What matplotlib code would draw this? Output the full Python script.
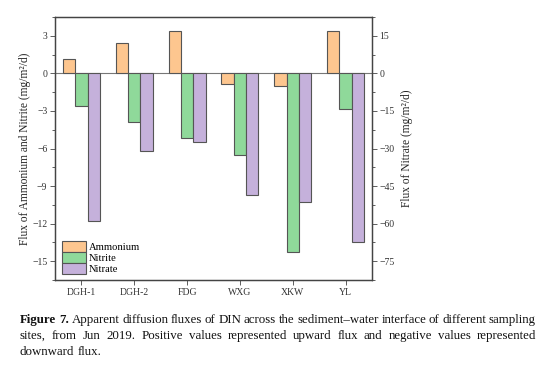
import numpy as np
import matplotlib.pyplot as plt
from matplotlib.ticker import MultipleLocator

plt.rcParams['font.family'] = ['Liberation Serif', 'DejaVu Serif']

# Datos
sites = ['DGH-1', 'DGH-2', 'FDG', 'WXG', 'XKW', 'YL']
ammonium = [1.15, 2.42, 3.38, -0.85, -0.98, 3.40]      # eixo esquerdo
nitrite = [-2.58, -3.88, -5.15, -6.51, -14.27, -2.84]  # eixo esquerdo
nitrate = [-58.9, -30.8, -27.4, -48.4, -51.4, -67.2]   # eixo direito

c_amm = '#FDC68F'
c_nit = '#8FD99A'
c_nat = '#C5B1DB'
edge = '#555555'

fig = plt.figure(figsize=(5.54, 3.69), dpi=100)
ax = fig.add_axes([55 / 554, 1 - 280 / 369, 317 / 554, 263 / 369])
ax2 = ax.twinx()

x = np.arange(1, len(sites) + 1)
w = 0.233

b1 = ax.bar(x - w, ammonium, w, color=c_amm, edgecolor=edge, linewidth=0.8, label='Ammonium')
b2 = ax.bar(x, nitrite, w, color=c_nit, edgecolor=edge, linewidth=0.8, label='Nitrite')
b3 = ax2.bar(x + w, nitrate, w, color=c_nat, edgecolor=edge, linewidth=0.8, label='Nitrate')
ax.axhline(0, color='#777777', linewidth=0.8, zorder=0.5)

ax.set_xlim(0.5, 6.5)
ax.set_ylim(-16.5, 4.5)
ax2.set_ylim(-82.5, 22.5)

ax.set_xticks(x)
ax.set_xticklabels(sites)
ax.yaxis.set_major_locator(MultipleLocator(3))
ax.yaxis.set_minor_locator(MultipleLocator(1.5))
ax2.yaxis.set_major_locator(MultipleLocator(15))
ax2.yaxis.set_minor_locator(MultipleLocator(7.5))
ax.xaxis.set_minor_locator(plt.NullLocator())

for a in (ax, ax2):
    a.tick_params(which='major', length=3.5, width=0.6, labelsize=7, colors='#444444', labelcolor='#333333', pad=2)
    a.tick_params(which='minor', length=2, width=0.6, colors='#444444')
    for s in a.spines.values():
        s.set_color('#444444')
        s.set_linewidth(0.9)

ax.set_ylabel('Flux of Ammonium and Nitrite (mg/m\u00b2/d)', fontsize=8.3, color='#222222', labelpad=1)
ax2.set_ylabel('Flux of Nitrate (mg/m\u00b2/d)', fontsize=8.3, color='#222222', labelpad=4)

ax.legend(handles=[b1, b2, b3], loc='lower left', frameon=False, fontsize=7.6,
          handlelength=2.3, handleheight=1.2, labelspacing=0.0, handletextpad=0.25,
          borderpad=0.0, borderaxespad=0.0, bbox_to_anchor=(7 / 317, 6 / 263))

# Legenda da figura (justificada)
fig.canvas.draw()
renderer = fig.canvas.get_renderer()
fs = 9.3
left_px, right_px = 20, 536
lines = [
    (['Figure', '7.'], 'Apparent diffusion fluxes of DIN across the sediment\u2013water interface of different sampling', True),
    ([], 'sites, from Jun 2019.  Positive values represented upward flux and negative values represented', True),
    ([], 'downward flux.', False),
]
y_base = [323, 339, 355]
for (bold, txt, just), yb in zip(lines, y_base):
    words = [(wd, 'bold') for wd in bold] + [(wd, 'normal') for wd in txt.split()]
    widths = []
    for wd, fw in words:
        t = fig.text(0, 0, wd, fontsize=fs, fontweight=fw)
        widths.append(t.get_window_extent(renderer).width)
        t.remove()
    total = sum(widths)
    if just:
        gap = (right_px - left_px - total) / (len(words) - 1)
    else:
        gap = fs * 100 / 72 * 0.25
    xp = left_px
    for (wd, fw), wi in zip(words, widths):
        fig.text(xp / 554, 1 - yb / 369, wd, fontsize=fs, fontweight=fw,
                 va='baseline', ha='left', color='#111111')
        xp += wi + gap

fig.savefig('out.png', dpi=100)
